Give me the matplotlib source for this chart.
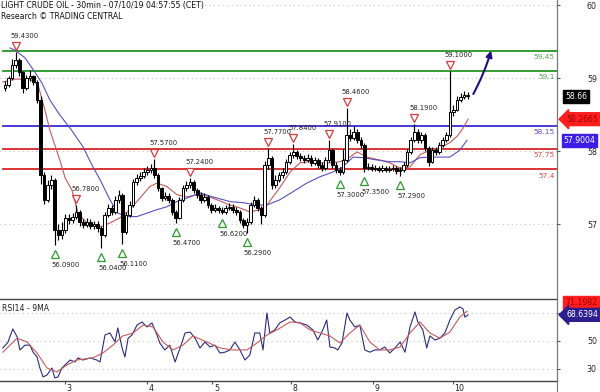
import matplotlib
matplotlib.use('Agg')
import matplotlib.pyplot as plt
from matplotlib.transforms import blended_transform_factory, ScaledTranslation
from matplotlib.lines import Line2D
from matplotlib.patches import FancyArrowPatch
import numpy as np

plt.rcParams['font.family'] = 'DejaVu Sans'

title = 'LIGHT CRUDE OIL - 30min - 07/10/19 04:57:55 (CET)'
subtitle = 'Research \u00a9 TRADING CENTRAL'

# price bars (one bar per hour of the plot)
first_open = 58.80
closes = [
    58.86, 58.98, 59.20, 59.29, 59.08, 58.81, 58.98, 59.01, 58.91, 58.60,
    57.30, 56.87, 57.13, 57.22, 56.35, 56.26, 56.35, 56.56, 56.52, 56.58,
    56.66, 56.49, 56.44, 56.49, 56.42, 56.45, 56.38, 56.26, 56.61, 56.73,
    56.66, 56.87, 56.96, 56.32, 56.61, 56.78, 57.18, 57.25, 57.28, 57.35,
    57.39, 57.42, 57.30, 57.07, 56.90, 56.94, 56.87, 56.66, 56.56, 56.87,
    57.07, 57.13, 57.18, 57.04, 56.96, 56.87, 56.92, 56.78, 56.70, 56.73,
    56.70, 56.66, 56.73, 56.75, 56.70, 56.66, 56.52, 56.44, 56.49, 56.78,
    56.87, 56.73, 56.61, 57.47, 57.60, 57.13, 57.22, 57.30, 57.35, 57.53,
    57.65, 57.70, 57.63, 57.60, 57.56, 57.60, 57.51, 57.56, 57.47, 57.42,
    57.56, 57.73, 57.47, 57.39, 57.35, 57.56, 57.99, 57.94, 58.05, 57.91,
    57.82, 57.42, 57.44, 57.41, 57.42, 57.39, 57.42, 57.39, 57.41, 57.42,
    57.37, 57.39, 57.47, 57.70, 57.91, 58.05, 57.91, 57.99, 57.77, 57.53,
    57.73, 57.70, 57.82, 57.91, 57.99, 58.39, 58.43, 58.60, 58.65, 58.69,
    58.66]
highs = [
    58.92, 59.02, 59.30, 59.43, 59.32, 59.10, 59.03, 59.12, 59.04, 58.95,
    58.66, 57.35, 57.22, 57.30, 57.25, 56.45, 56.48, 56.62, 56.63, 56.64,
    56.78, 56.70, 56.54, 56.55, 56.53, 56.51, 56.50, 56.42, 56.66, 56.80,
    56.78, 56.93, 57.04, 56.99, 56.66, 56.85, 57.23, 57.32, 57.36, 57.42,
    57.46, 57.49, 57.57, 57.34, 57.10, 57.00, 56.99, 56.90, 56.70, 56.92,
    57.12, 57.19, 57.24, 57.21, 57.08, 57.00, 56.98, 56.95, 56.82, 56.79,
    56.77, 56.74, 56.78, 56.81, 56.79, 56.74, 56.69, 56.56, 56.55, 56.84,
    56.93, 56.90, 56.76, 57.55, 57.77, 57.63, 57.30, 57.36, 57.42, 57.58,
    57.70, 57.84, 57.74, 57.68, 57.65, 57.66, 57.64, 57.62, 57.60, 57.52,
    57.62, 57.91, 57.76, 57.52, 57.44, 57.75, 58.46, 58.10, 58.14, 58.10,
    57.96, 57.85, 57.50, 57.49, 57.47, 57.46, 57.47, 57.46, 57.46, 57.47,
    57.46, 57.44, 57.52, 57.75, 57.96, 58.19, 58.09, 58.05, 58.02, 57.80,
    57.78, 57.78, 57.87, 57.96, 58.05, 59.10, 58.52, 58.66, 58.72, 58.76,
    58.73]
lows = [
    58.76, 58.83, 58.95, 59.15, 59.02, 58.72, 58.78, 58.93, 58.86, 58.55,
    57.15, 56.80, 56.83, 57.05, 56.09, 56.18, 56.20, 56.30, 56.45, 56.47,
    56.54, 56.42, 56.38, 56.40, 56.37, 56.36, 56.32, 56.04, 56.22, 56.57,
    56.60, 56.62, 56.82, 56.11, 56.28, 56.57, 56.74, 57.12, 57.20, 57.24,
    57.30, 57.34, 57.25, 57.02, 56.85, 56.86, 56.82, 56.60, 56.47, 56.53,
    56.83, 57.02, 57.08, 56.99, 56.91, 56.82, 56.83, 56.73, 56.65, 56.66,
    56.65, 56.62, 56.63, 56.69, 56.65, 56.61, 56.47, 56.38, 56.29, 56.46,
    56.74, 56.68, 56.45, 56.58, 57.40, 57.05, 57.08, 57.18, 57.25, 57.31,
    57.49, 57.60, 57.58, 57.55, 57.51, 57.52, 57.46, 57.47, 57.42, 57.37,
    57.38, 57.52, 57.42, 57.34, 57.30, 57.32, 57.52, 57.88, 57.90, 57.86,
    57.76, 57.35, 57.38, 57.37, 57.37, 57.35, 57.35, 57.35, 57.35, 57.37,
    57.32, 57.29, 57.35, 57.44, 57.66, 57.87, 57.86, 57.86, 57.72, 57.45,
    57.50, 57.64, 57.66, 57.78, 57.87, 57.95, 58.33, 58.40, 58.56, 58.61,
    58.62]

# moving averages (bar position, value)
fast_x = [-0.6, 2.8, 7.0, 9.3, 11.2, 12.6, 15.4, 16.9, 18.8, 20.5, 23.0, 26.7, 29.5,
          32.3, 35.1, 37.9, 40.7, 42.7, 45.5, 48.3, 51.1, 54.8, 57.6, 63.2, 66.0,
          68.8, 71.6, 73.6, 77.2, 80.1, 82.9, 85.7, 88.5, 91.3, 94.1, 96.9, 98.9,
          101.7, 105.3, 108.1, 111.0, 113.8, 116.6, 119.4, 122.2, 125.0, 127.2,
          128.7, 130.1]
fast_ma = [58.91, 58.96, 58.96, 58.86, 58.43, 58.08, 57.56, 57.25, 57.04, 56.64, 56.47,
           56.40, 56.47, 56.56, 56.70, 56.90, 57.10, 57.16, 57.10, 56.96, 56.92, 56.97,
           56.92, 56.78, 56.73, 56.66, 56.70, 56.78, 57.08, 57.35, 57.51, 57.53, 57.51,
           57.51, 57.53, 57.61, 57.70, 57.61, 57.56, 57.51, 57.42, 57.44, 57.65, 57.73,
           57.77, 57.86, 57.98, 58.11, 58.2665]
slow_x = [1.4, 2.8, 5.6, 8.4, 10.4, 12.6, 15.4, 18.3, 21.9, 24.7, 26.7, 29.5, 31.7,
          34.3, 37.1, 39.9, 42.7, 45.5, 48.3, 51.1, 54.8, 58.4, 63.2, 66.9, 70.8,
          73.6, 77.2, 80.9, 84.8, 88.5, 92.1, 94.9, 97.8, 100.6, 104.5, 108.1,
          111.0, 113.8, 116.6, 119.4, 125.0, 127.8, 129.8]
slow_ma = [59.50, 59.46, 59.33, 59.08, 58.89, 58.60, 58.34, 58.11, 57.79, 57.44, 57.22,
           56.87, 56.64, 56.58, 56.58, 56.64, 56.70, 56.75, 56.84, 56.90, 56.99, 56.92,
           56.84, 56.82, 56.78, 56.78, 56.87, 57.01, 57.16, 57.27, 57.35, 57.44, 57.61,
           57.60, 57.56, 57.53, 57.53, 57.51, 57.60, 57.61, 57.61, 57.73, 57.9004]

# RSI14 and its 9MA
rsi_x = [-0.6, 0.8, 2.2, 3.4, 4.2, 5.6, 7.0, 7.9, 9.0, 9.8, 10.7, 11.8, 13.2, 14.0,
         14.9, 16.0, 16.9, 18.3, 19.7, 20.5, 21.9, 23.9, 25.8, 26.7, 28.1, 29.5,
         30.9, 31.7, 32.9, 33.7, 34.6, 35.7, 37.1, 38.5, 39.9, 41.3, 42.7, 43.5,
         44.9, 46.3, 47.8, 49.2, 50.6, 52.0, 53.4, 54.8, 56.2, 57.6, 59.0, 60.4,
         61.8, 63.2, 64.6, 66.0, 67.4, 68.8, 70.2, 71.6, 72.5, 73.6, 74.4, 75.8,
         77.2, 78.7, 80.1, 81.5, 82.9, 84.8, 86.5, 87.9, 89.3, 90.4, 91.3, 92.7,
         93.5, 94.7, 96.1, 96.9, 98.3, 99.7, 101.1, 102.5, 103.9, 105.3, 106.7,
         108.1, 109.6, 111.0, 112.4, 113.8, 115.2, 116.0, 117.4, 118.5, 119.4,
         120.8, 122.2, 123.6, 125.0, 126.4, 127.8, 128.7, 129.2, 130.1]
rsi = [45, 49, 58.6, 53, 43.6, 47, 47, 42, 38.6, 30.7, 24.3, 25.7, 30.7, 23.6,
       24.3, 30.7, 32.9, 36.4, 35, 37.9, 36.4, 37.9, 36.4, 35, 54.3, 55.7,
       49.3, 59.3, 45, 38.6, 52, 54.3, 61.4, 63.6, 60, 62.9, 54.3, 48.6,
       43.6, 47, 35, 45, 55.7, 56.4, 52, 45, 49.3, 45.7, 47, 41.4,
       42, 43.6, 49.3, 43.6, 36.4, 40, 55.7, 55.7, 43.6, 70, 55.7, 57.9,
       62.9, 65, 67.1, 63.6, 62.9, 61.4, 57.9, 50.7, 57.9, 65, 45.7, 45,
       43.6, 48.6, 70, 65, 60, 61.4, 43.6, 42, 43.6, 43.6, 45.7,
       41.4, 45, 49.3, 42, 60, 70.7, 63.6, 57.9, 45, 53.6,
       50.7, 52, 55.7, 65, 72.1, 74.3, 72.9, 67.1, 68.6394]
rsi_ma_x = [-0.6, 3.4, 6.2, 9.0, 11.8, 14.6, 17.4, 20.2, 24.7, 27.5, 30.3, 33.1, 36.0,
            38.8, 41.6, 44.4, 47.2, 50.0, 52.8, 56.7, 60.4, 64.0, 68.0, 70.8, 73.6,
            76.4, 80.1, 82.9, 85.7, 88.5, 91.3, 94.1, 96.9, 99.7, 102.5, 105.3, 108.1,
            111.0, 113.8, 116.6, 119.4, 122.2, 125.0, 127.8, 129.8]
rsi_ma = [42, 52, 49.3, 41.4, 30.7, 27.9, 32.9, 36.4, 37.9, 41.4, 47, 53.6, 55.7,
          61.4, 60, 49.3, 43.6, 47, 53.6, 49.3, 45, 43.6, 43.6, 48.6, 54.3,
          57.9, 63.6, 62.9, 57.9, 55.7, 53.6, 48.6, 55.7, 61.4, 49.3, 43.6, 43.6,
          45.7, 55.7, 63.6, 55.7, 52, 56.4, 67.1, 71.1982]

# swing highs / lows
peak_bars = [3, 20, 42, 52, 74, 81, 91, 96, 115, 125]
trough_bars = [14, 27, 33, 48, 61, 68, 94, 101, 111]

# key levels
level_vals = [59.45, 59.1, 58.15, 57.75, 57.4]
level_labels = ['59.45', '59.1', '58.15', '57.75', '57.4']
level_colors = ['#249624', '#249624', '#3a2ad2', '#d82424', '#d82424']
level_text_colors = ['#4aa84a', '#4aa84a', '#5b4cc0', '#d24a4a', '#d24a4a']
target = 59.45

axis_ticks = [57, 58, 59, 60]
day_pos = [16.9, 39.8, 58.3, 80.5, 103.5, 125.9]
day_labels = ['3', '4', '5', '8', '9', '10']

W, H = 600, 392
fig = plt.figure(figsize=(W / 100, H / 100), dpi=100)
right = 557 / W
ax = fig.add_axes([0, 94 / H, right, 298 / H])
axp = ax.twinx()
axr = fig.add_axes([0, 11 / H, right, 82 / H])
xlim = (-1.4, 155.1)

# ---- price panel
opens = [first_open] + closes[:-1]
idx = np.arange(len(closes))
o = np.array(opens)
c = np.array(closes)
up = c >= o
ax.vlines(idx, lows, highs, color='black', lw=0.85, zorder=3)
ax.bar(idx[up], (c - o)[up], bottom=o[up], width=0.75, color='white',
       edgecolor='black', lw=0.7, zorder=4)
ax.bar(idx[~up], (o - c)[~up], bottom=c[~up], width=0.75, color='black',
       edgecolor='black', lw=0.7, zorder=4)

ax.plot(fast_x, fast_ma, color='#c45a5a', lw=0.8, zorder=2.5)
ax.plot(slow_x, slow_ma, color='#5a4fc4', lw=0.8, zorder=2.5)

trans_r = blended_transform_factory(ax.transAxes, ax.transData)
for lv, lab, col, tcol in zip(level_vals, level_labels, level_colors, level_text_colors):
    ax.axhline(lv, xmin=3 / 557, color=col, lw=1.3, zorder=2)
    ax.annotate(lab, xy=(1, lv), xycoords=trans_r, xytext=(-1.5, -4.6),
                textcoords='offset points', ha='right', va='center',
                color=tcol, fontsize=5.3)

up_off = ScaledTranslation(0, 6 / 100, fig.dpi_scale_trans)
dn_off = ScaledTranslation(0, -9 / 100, fig.dpi_scale_trans)
pk_y = [highs[b] for b in peak_bars]
tr_y = [lows[b] for b in trough_bars]
ax.plot(peak_bars, pk_y, 'v', ms=5.8, mfc='white', mec='#d63a3a', mew=0.9,
        transform=ax.transData + up_off, zorder=5, clip_on=False)
ax.plot(trough_bars, tr_y, '^', ms=5.8, mfc='white', mec='#2e9a2e', mew=0.9,
        transform=ax.transData + dn_off, zorder=5)
for b, v in zip(peak_bars, pk_y):
    ax.annotate('%.4f' % v, xy=(b, v), xytext=(-3.6, 11.5), textcoords='offset points',
                ha='left', va='center', fontsize=4.9, color='#222222')
for b, v in zip(trough_bars, tr_y):
    ax.annotate('%.4f' % v, xy=(b, v), xytext=(-2.2, -14.4), textcoords='offset points',
                ha='left', va='center', fontsize=4.9, color='#222222')

n = len(closes)
arrow = FancyArrowPatch((n - 1 + 1.2, closes[-1]), (n - 1 + 6.8, target + 0.05),
                        arrowstyle='-|>', mutation_scale=9, lw=1.5,
                        color='#1d0f8c', connectionstyle='arc3,rad=0.06', zorder=6)
ax.add_patch(arrow)

ax.set_xlim(*xlim)
ax.set_ylim(55.17, 60.33)
ax.set_xticks([])
ax.set_yticks([])
for s in ax.spines.values():
    s.set_visible(False)

# axis labels of the price panel
axp.set_ylim(55.99, 60.07)
axp.set_yticks(axis_ticks)
axp.set_yticklabels([str(t) for t in axis_ticks])
axp.tick_params(axis='y', direction='out', length=2.5, width=0.8, pad=19,
                labelsize=5.7, colors='#555555', labelcolor='#222222')
axp.grid(axis='y', color='#c4c4c4', ls=(0, (1, 3)), lw=0.8)
for k, s in axp.spines.items():
    s.set_visible(k == 'right')
axp.spines['right'].set_color('#777777')
ax.set_zorder(axp.get_zorder() + 1)
ax.patch.set_visible(False)


def side_box(a, val, txt, fc, tc, style='square', dx=5.8, dy=0.0):
    a.annotate(txt, xy=(1, val), xycoords=blended_transform_factory(a.transAxes, a.transData),
               xytext=(dx, dy), textcoords='offset points', ha='left', va='center',
               fontsize=5.6, color=tc, annotation_clip=False, zorder=10,
               bbox=dict(boxstyle=style + ',pad=0.25', fc=fc, ec=fc))


side_box(ax, closes[-1], '%.2f' % closes[-1], 'black', 'white', dx=6)
side_box(ax, fast_ma[-1], '%.4f' % fast_ma[-1], '#ff1e1e', '#9a0000', style='larrow', dx=6.5)
side_box(ax, slow_ma[-1], '%.4f' % slow_ma[-1], '#3c1ee6', 'white', dx=4.8)

fig.text(0.002, 1 - 5.5 / H, title, fontsize=5.6, va='center', ha='left', color='#111111')
fig.text(0.002, 1 - 16.5 / H, subtitle, fontsize=5.6, va='center', ha='left', color='#111111')

# ---- RSI panel
axr.plot(rsi_x, rsi, color='#2b2b80', lw=0.8)
axr.plot(rsi_ma_x, rsi_ma, color='#c45a5a', lw=0.8)
axr.set_xlim(*xlim)
axr.set_ylim(21.4, 80)
axr.yaxis.tick_right()
axr.set_yticks([30, 50, 70])
axr.set_yticklabels(['30', '50', ''])
axr.tick_params(axis='y', direction='out', length=2.5, width=0.8, pad=19,
                labelsize=5.7, colors='#555555', labelcolor='#222222')
axr.grid(axis='y', color='#c4c4c4', ls=(0, (1, 3)), lw=0.8)
axr.set_xticks(day_pos)
axr.set_xticklabels(day_labels)
axr.tick_params(axis='x', direction='out', length=2.5, width=0.8, pad=0,
                labelsize=5.7, colors='#555555', labelcolor='#222222')
shift = ScaledTranslation(1.5 / 100, 0, fig.dpi_scale_trans)
for lbl in axr.get_xticklabels():
    lbl.set_horizontalalignment('left')
    lbl.set_transform(lbl.get_transform() + shift)
axr.spines['left'].set_visible(False)
for k in ['top', 'bottom']:
    axr.spines[k].set_color('#444444')
    axr.spines[k].set_linewidth(1.0)
axr.spines['right'].set_color('#777777')
axr.text(0.004, 0.89, 'RSI14 - 9MA', transform=axr.transAxes, fontsize=5.6,
         va='center', ha='left', color='#222222')
side_box(axr, rsi_ma[-1], '%.4f' % rsi_ma[-1], '#ff1e1e', '#9a0000', dx=5.8, dy=6.5)
side_box(axr, rsi[-1], '%.4f' % rsi[-1], '#2e1f8f', 'white', style='larrow', dx=6.5)

fig.add_artist(Line2D([right, right], [0, 1], transform=fig.transFigure,
                      color='#777777', lw=0.8))

fig.savefig('out.png', dpi=100, facecolor='white')
